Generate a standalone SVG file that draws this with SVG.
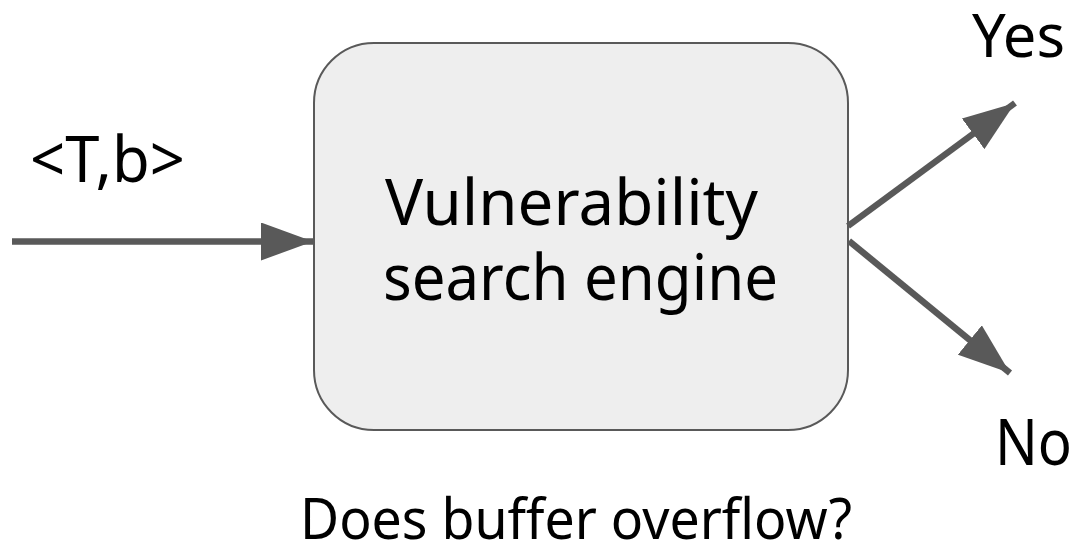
<svg xmlns="http://www.w3.org/2000/svg" width="1078" height="546" viewBox="0 0 1078 546">
  <style>
    text { font-family: "Noto Sans", "Open Sans", sans-serif; fill: #000; }
    .conn { stroke: #595959; stroke-width: 6.5; fill: none; }
  </style>
  <defs>
    <marker id="arrow" markerUnits="userSpaceOnUse" viewBox="0 0 52 38" refX="52" refY="19" markerWidth="52" markerHeight="38" orient="auto">
      <path d="M0,0 L52,19 L0,38 Z" fill="#595959"/>
    </marker>
  </defs>
  <rect width="1078" height="546" fill="#fff"/>
  <g id="engine">
    <rect x="314" y="43" width="534" height="387" rx="60" ry="60" fill="#eeeeee" stroke="#595959" stroke-width="2"/>
    <text x="385" y="225" font-size="63" textLength="373" lengthAdjust="spacingAndGlyphs">Vulnerability</text>
    <text x="383" y="300" font-size="63" textLength="395" lengthAdjust="spacingAndGlyphs">search engine</text>
  </g>
  <g id="labels">
    <text x="30" y="182" font-size="63" textLength="155" lengthAdjust="spacingAndGlyphs">&lt;T,b&gt;</text>
    <text x="972" y="57" font-size="60" textLength="93" lengthAdjust="spacingAndGlyphs">Yes</text>
    <text x="995" y="465" font-size="63" textLength="77" lengthAdjust="spacingAndGlyphs">No</text>
    <text x="300" y="539" font-size="56" textLength="552" lengthAdjust="spacingAndGlyphs">Does buffer overflow?</text>
  </g>
  <g id="connectors">
    <line class="conn" x1="12" y1="241.5" x2="313" y2="241.5" marker-end="url(#arrow)"/>
    <line class="conn" x1="848" y1="226" x2="1015" y2="103" marker-end="url(#arrow)"/>
    <line class="conn" x1="849" y1="241" x2="1010" y2="373" marker-end="url(#arrow)"/>
  </g>
</svg>
